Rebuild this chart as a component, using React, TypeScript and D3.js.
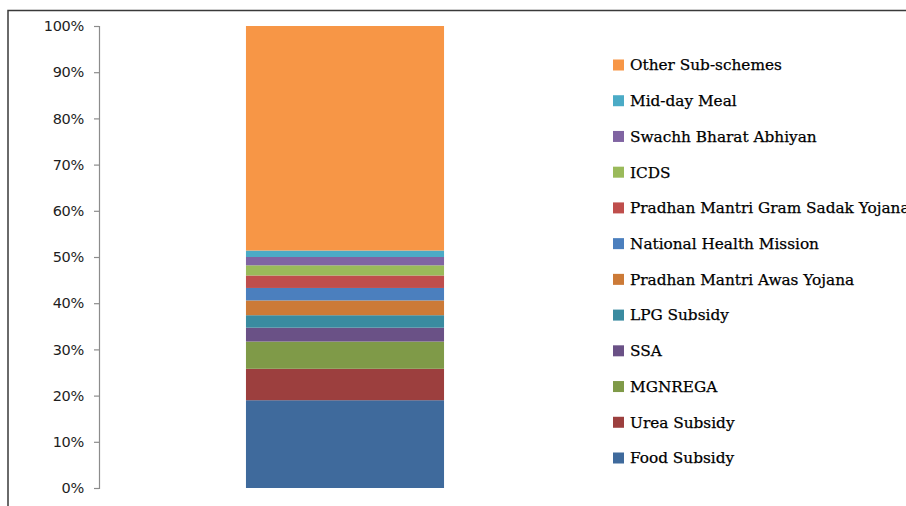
import { useEffect, useRef } from "react";
import * as d3 from "d3";

// share of total allocation, bottom to top of the stacked bar
const schemes = [
  "Food Subsidy",
  "Urea Subsidy",
  "MGNREGA",
  "SSA",
  "LPG Subsidy",
  "Pradhan Mantri Awas Yojana",
  "National Health Mission",
  "Pradhan Mantri Gram Sadak Yojana",
  "ICDS",
  "Swachh Bharat Abhiyan",
  "Mid-day Meal",
  "Other Sub-schemes",
];
const shares = [19.0, 6.8, 5.9, 3.0, 2.7, 3.2, 2.7, 2.7, 2.2, 1.8, 1.4, 48.6];
const colors = [
  "#3f6a9c",
  "#9c3f3e",
  "#7f9a48",
  "#6a5186",
  "#3a8ba0",
  "#cc7a37",
  "#4b7fbe",
  "#bf4e4c",
  "#9aba5a",
  "#8064a2",
  "#4babc6",
  "#f79646",
];
const categories = [""];

const width = 906;
const height = 506;

export default function App() {
  const svgRef = useRef<SVGSVGElement>(null);

  useEffect(() => {
    if (!svgRef.current) return;
    const svg = d3.select(svgRef.current);
    svg.selectAll("*").remove();

    const row: Record<string, number | string> = { cat: "" };
    schemes.forEach((s, i) => (row[s] = shares[i]));
    const total = d3.sum(shares);

    const y = d3.scaleLinear().domain([0, 1]).range([488, 26]);
    const x = d3
      .scaleBand<string>()
      .domain(categories)
      .range([99, 591])
      .paddingInner(0)
      .paddingOuter(0.742);

    const color = d3.scaleOrdinal<string, string>().domain(schemes).range(colors);

    // frame
    svg
      .append("path")
      .attr("d", `M8,${height}V10.5H${width}`)
      .attr("fill", "none")
      .attr("stroke", "#3a3a3a")
      .attr("stroke-width", 1.5);

    const stack = d3
      .stack<Record<string, number | string>>()
      .keys(schemes)
      .value((d, k) => (d[k] as number) / total);

    const layers = stack([row]);

    svg
      .append("g")
      .selectAll("rect")
      .data(layers)
      .join("rect")
      .attr("x", x("") || 0)
      .attr("width", x.bandwidth())
      .attr("y", (d) => y(d[0][1]))
      .attr("height", (d) => y(d[0][0]) - y(d[0][1]))
      .attr("fill", (d) => color(d.key));

    // y axis
    const axis = svg
      .append("g")
      .attr("transform", "translate(99,0)")
      .call(
        d3
          .axisLeft(y)
          .ticks(10)
          .tickSize(5)
          .tickSizeOuter(5)
          .tickPadding(10)
          .tickFormat(d3.format(".0%"))
      );
    axis.select(".domain").attr("stroke", "#8c8c8c").attr("stroke-width", 1.2);
    axis.selectAll(".tick line").attr("stroke", "#8c8c8c").attr("stroke-width", 1.2);
    axis
      .selectAll(".tick text")
      .style("font-family", "DejaVu Sans, Verdana, sans-serif")
      .style("font-size", "14.5px")
      .style("letter-spacing", "-0.3px")
      .style("fill", "#1e1e1e");

    // legend, top entry is the last series
    const legendItems = schemes.slice().reverse();
    const ly = d3
      .scalePoint<string>()
      .domain(legendItems)
      .range([65, 458]);

    const legend = svg
      .append("g")
      .selectAll("g")
      .data(legendItems)
      .join("g")
      .attr("transform", (d) => `translate(613,${ly(d)})`);

    legend
      .append("rect")
      .attr("x", 0)
      .attr("y", -5.5)
      .attr("width", 11)
      .attr("height", 11)
      .attr("fill", (d) => color(d));

    legend
      .append("text")
      .attr("x", 17)
      .attr("dy", "0.35em")
      .style("font-family", "DejaVu Serif, serif")
      .style("font-size", "15.3px")
      .style("fill", "#000")
      .style("stroke", "#000")
      .style("stroke-width", 0.25)
      .text((d) => d);
  }, []);

  return (
    <svg
      ref={svgRef}
      width={width}
      height={height}
      style={{ position: "absolute", left: 0, top: 0, background: "#fff" }}
    />
  );
}
